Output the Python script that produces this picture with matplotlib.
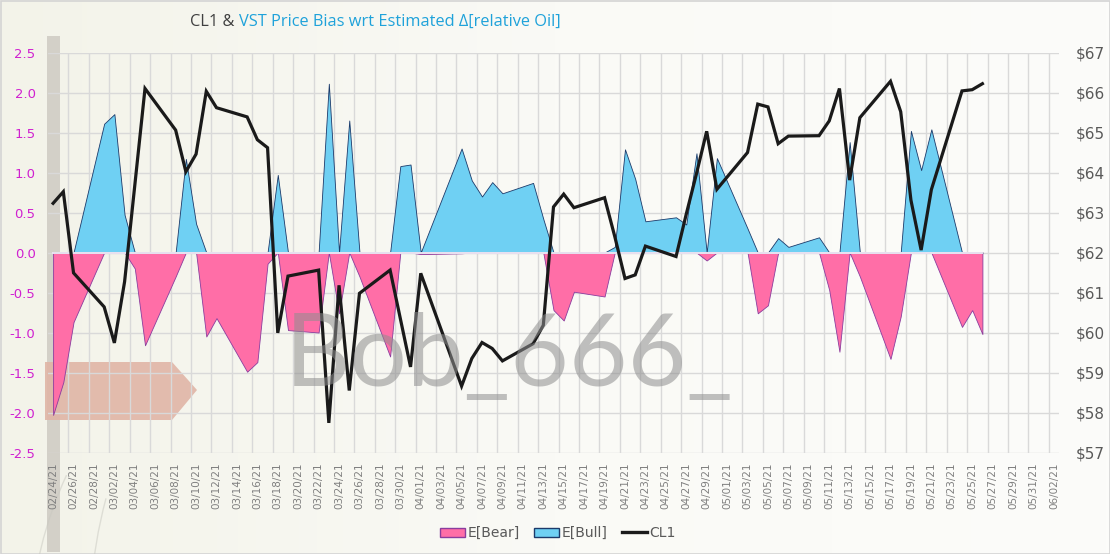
import numpy as np
import pandas as pd
import matplotlib
matplotlib.use("Agg")
import matplotlib.pyplot as plt
import matplotlib.dates as mdates
from matplotlib.colors import LinearSegmentedColormap
from matplotlib.patches import Polygon, Rectangle, Patch, Arc
from matplotlib.lines import Line2D

# -----------------------------
# DATA
# -----------------------------
# trading days 02/24/21 -> 05/26/21 (Good Friday 04/02 missing)
dates = pd.bdate_range("2021-02-24", "2021-05-26").drop(pd.Timestamp("2021-04-02"))

bear = [-2.03, -1.62, -0.87, 0, 0, 0, -0.2, -1.16,
        -0.3, 0, 0, -1.05, -0.82,
        -1.49, -1.37, -0.14, 0, -0.97,
        -1.0, 0, -0.76, 0, -0.3,
        -1.3, 0, 0, -0.02,
        -0.01, 0, 0, 0, 0,
        0, 0, -0.72, -0.85, -0.49,
        -0.55, 0, 0, 0, 0,
        0, 0, 0, -0.1, 0,
        0, -0.76, -0.66, 0, 0,
        0, -0.47, -1.24, 0, -0.3,
        -1.33, -0.8, 0, 0, 0,
        -0.93, -0.72, -1.02]

bull = [0, 0, 0, 1.61, 1.73, 0.47, 0, 0,
        0, 1.17, 0.36, 0, 0,
        0, 0, 0, 0.97, 0,
        0, 2.11, 0, 1.65, 0,
        0, 1.08, 1.1, 0,
        1.3, 0.9, 0.7, 0.88, 0.74,
        0.87, 0.42, 0, 0, 0,
        0, 0.07, 1.29, 0.92, 0.39,
        0.44, 0.35, 1.24, 0, 1.18,
        0.3, 0, 0, 0.18, 0.07,
        0.19, 0, 0, 1.38, 0,
        0, 0, 1.52, 1.03, 1.54,
        0, 0, 0]

cl1 = [63.23, 63.52, 61.49, 60.64, 59.74, 61.27, 63.68, 66.10,
       65.06, 64.02, 64.46, 66.03, 65.62,
       65.39, 64.82, 64.62, 59.99, 61.41,
       61.56, 57.74, 61.18, 58.55, 60.98,
       61.56, 60.35, 59.14, 61.48,
       58.66, 59.35, 59.75, 59.60, 59.29,
       59.72, 60.18, 63.14, 63.46, 63.12,
       63.37, 62.40, 61.35, 61.44, 62.16,
       61.90, 62.96, 63.97, 65.03, 63.58,
       64.50, 65.71, 65.64, 64.72, 64.91,
       64.92, 65.29, 66.10, 63.81, 65.37,
       66.28, 65.52, 63.31, 62.06, 63.57,
       66.04, 66.07, 66.22]

left_ticks = np.arange(-2.5, 2.51, 0.5)
right_ticks = np.arange(57, 68, 1)
label_days = pd.date_range("2021-02-24", "2021-06-02", freq="2D")

PINK, PINK_EDGE = "#ff6ea7", "#8a3d9e"
BLUE, BLUE_EDGE = "#6fd0f3", "#1c3a6a"

# -----------------------------
# FIGURE
# -----------------------------
W, H = 1110, 554
fig = plt.figure(figsize=(W / 100, H / 100), dpi=100)
fig.patch.set_facecolor("#fafaf6")

# background layer in pixel coords (gradient + decorations)
bg = fig.add_axes([0, 0, 1, 1], zorder=-10)
bg.set_xlim(0, W)
bg.set_ylim(H, 0)
bg.axis("off")
cmap = LinearSegmentedColormap.from_list("bg", ["#f3f3e9", "#fafaf6", "#fcfcfa"])
bg.imshow(np.linspace(0, 1, 256).reshape(1, -1), aspect="auto", cmap=cmap,
          extent=[0, W, H, 0])
bg.add_patch(Rectangle((0.5, 0.5), W - 1, H - 1, fill=False, ec="#d4d4d4", lw=1.2))
bg.add_patch(Rectangle((47, 36), 13, 516, color="#d3d0c8", lw=0))
# faint swooshes (lower left)
for cx, cy, r, a1, a2 in [(560, 620, 470, 150, 195), (420, 640, 390, 160, 205)]:
    bg.add_patch(Arc((cx, cy), 2 * r, 2 * r, theta1=a1, theta2=a2,
                     color="#c8c8c0", lw=1.0, alpha=0.5))
bg.add_patch(Polygon([(45, 362), (172, 362), (197, 390), (172, 420), (45, 420)],
                     closed=True, color="#e0b5a6", alpha=0.9, lw=0))

# main axes
ax = fig.add_axes([48 / W, (H - 452.5) / H, (1059 - 48) / W, 400 / H])
ax.set_facecolor("none")

xd = mdates.date2num(dates.to_pydatetime())
xt = mdates.date2num(label_days.to_pydatetime())
ax.set_xlim(xt[0] - 0.5, xt[-1] + 0.5)
ax.set_ylim(-2.5, 2.5)

ax.fill_between(xd, 0, bear, facecolor=PINK, edgecolor=PINK_EDGE, lw=0.6, zorder=2)
ax.fill_between(xd, 0, bull, facecolor=BLUE, edgecolor=BLUE_EDGE, lw=0.6, zorder=3)
ax.plot([xd[0], xd[-1]], [0, 0], color="#ece4f2", lw=1.4, zorder=4)

ax.set_yticks(left_ticks)
ax.set_yticklabels([f"{v:.1f}" for v in left_ticks])
ax.set_xticks(xt)
ax.set_xticklabels([d.strftime("%m/%d/%y") for d in label_days], rotation=90)
for v in left_ticks:
    ax.axhline(v, color="#d9d9d9", lw=1.0, zorder=0)
for v in xt[1:]:
    ax.axvline(v - 0.5, color="#d9d9d9", lw=1.0, zorder=0)
ax.tick_params(axis="x", length=0, pad=7, labelsize=7.5, labelcolor="#7f7f7f")
ax.tick_params(axis="y", length=0, pad=9, labelsize=9.5, labelcolor="#d020d0")
for s in ax.spines.values():
    s.set_visible(False)

ax2 = ax.twinx()
ax2.plot(xd, cl1, color="#1a1a1a", lw=2.3, solid_joinstyle="miter", zorder=5)
ax2.set_ylim(57, 67)
ax2.set_yticks(right_ticks)
ax2.set_yticklabels([f"${v}" for v in right_ticks])
ax2.tick_params(axis="y", length=0, pad=12, labelsize=11, labelcolor="#595959")
for s in ax2.spines.values():
    s.set_visible(False)

# watermark
fig.text(285 / W, 1 - 386 / H, "Bob_666_", family="Lato", fontweight="normal",
         fontsize=73, color="#8e8e8e", alpha=0.55, va="baseline", ha="left", zorder=6)

# title in two colours
fig.canvas.draw()
r = fig.canvas.get_renderer()
t1 = fig.text(190 / W, 1 - 26 / H, "CL1 & ", family="Open Sans", fontsize=11.8,
              color="#404040", va="baseline", ha="left")
w1 = t1.get_window_extent(renderer=r).width
fig.text((190 + w1) / W, 1 - 26 / H, "VST Price Bias wrt Estimated Δ[relative Oil]",
         family="Open Sans", fontsize=11.8, color="#1fa2da", va="baseline", ha="left")

handles = [Patch(facecolor=PINK, edgecolor=PINK_EDGE, lw=1.0),
           Patch(facecolor=BLUE, edgecolor=BLUE_EDGE, lw=1.0),
           Line2D([], [], color="#1a1a1a", lw=2.4)]
fig.legend(handles, ["E[Bear]", "E[Bull]", "CL1"], loc="center",
           bbox_to_anchor=(558 / W, 1 - 533 / H), ncol=3, frameon=False,
           fontsize=10, handlelength=1.8, handleheight=0.6, handletextpad=0.2,
           columnspacing=1.0, labelcolor="#595959")

fig.savefig("out.png", dpi=100, facecolor=fig.get_facecolor())
